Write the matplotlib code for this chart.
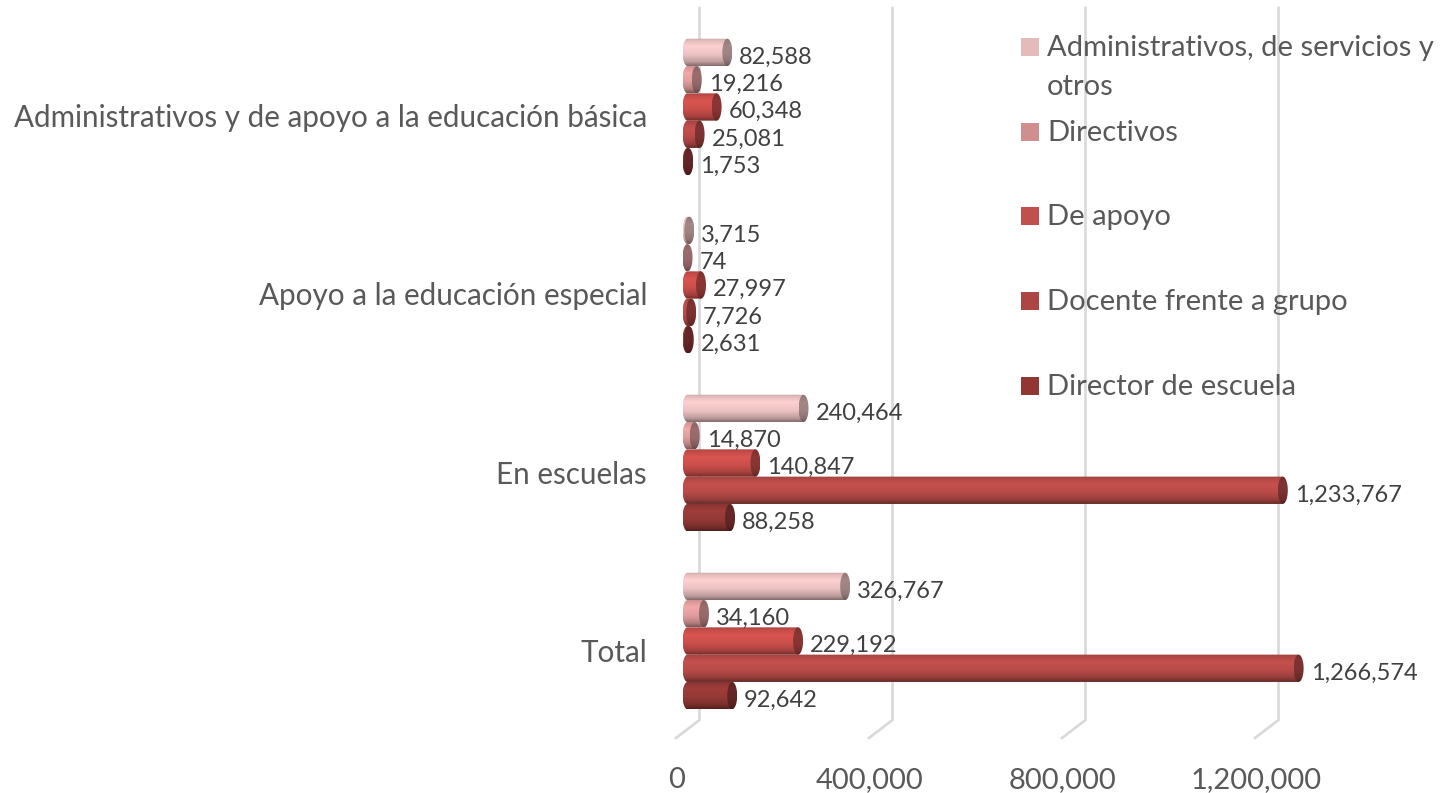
import numpy as np
import matplotlib
matplotlib.use("Agg")
import matplotlib.pyplot as plt
from matplotlib.patches import Polygon, Rectangle
from matplotlib.transforms import ScaledTranslation

plt.rcParams['font.family'] = ['Lato', 'DejaVu Sans']

categories = ['Total', 'En escuelas', 'Apoyo a la educación especial',
              'Administrativos y de apoyo a la educación básica']
series_names = ['Administrativos, de servicios y\notros', 'Directivos', 'De apoyo',
                'Docente frente a grupo', 'Director de escuela']

administrativos = [326767, 240464, 3715, 82588]
directivos = [34160, 14870, 74, 19216]
de_apoyo = [229192, 140847, 27997, 60348]
docente = [1266574, 1233767, 7726, 25081]
director = [92642, 88258, 2631, 1753]
all_series = [administrativos, directivos, de_apoyo, docente, director]

x_ticks = [0, 400000, 800000, 1200000]

bar_colors = [(240, 197, 197), (228, 160, 160), (205, 80, 76), (186, 76, 73), (150, 58, 55)]
legend_colors = ['#E3BBBB', '#D08F8F', '#C0504D', '#AC4644', '#923634']

W, H = 1445, 793
X0 = 687.5         # pixel of value 0
SCALE = 0.4825e-3  # pixels per unit
Y0 = 641           # pixel of the first category
STEP = 178         # pixels between categories
BOTTOM = 738
BAR_H = 27.3 / STEP
CAP = 5 / SCALE    # half width of the cylinder ends


def py(px):
    return (Y0 - px) / STEP


def ellipse_pts(cx, cy, start, stop):
    t = np.linspace(start, stop, 40)
    return np.column_stack([cx + CAP * np.cos(t), cy + BAR_H / 2 * np.sin(t)])


def shade(color, stops):
    pos = np.linspace(0, 1, 64)
    mult = np.interp(pos, [0, 0.06, 0.28, 0.6, 0.85, 1], stops)
    rgb = np.clip(np.outer(mult, color), 0, 255) / 255
    return rgb[:, None, :]


def cylinder(ax, val, y, color):
    body = shade(color, [0.8, 0.93, 1.06, 0.98, 0.8, 0.55])
    outline = np.vstack([ellipse_pts(0, y, np.pi / 2, 3 * np.pi / 2),
                         [[val, y - BAR_H / 2], [val, y + BAR_H / 2]]])
    im = ax.imshow(body, extent=(-CAP, val, y - BAR_H / 2, y + BAR_H / 2),
                   aspect='auto', zorder=3, interpolation='bilinear')
    im.set_clip_path(Polygon(outline, transform=ax.transData))
    end = shade(color, [0.55, 0.62, 0.68, 0.66, 0.58, 0.45])
    cap_pts = ellipse_pts(val, y, 0, 2 * np.pi)
    im2 = ax.imshow(end, extent=(val - CAP, val + CAP, y - BAR_H / 2, y + BAR_H / 2),
                    aspect='auto', zorder=4, interpolation='bilinear')
    im2.set_clip_path(Polygon(cap_pts, transform=ax.transData))


fig = plt.figure(figsize=(W / 100, H / 100), dpi=100)
# axes start a little left of zero so the rounded bar ends are not cut
LEFT = X0 - 20
ax = fig.add_axes([LEFT / W, (H - BOTTOM) / H, (W - LEFT) / W, BOTTOM / H])

# back wall gridlines with the 3d floor stub
for t in x_ticks:
    xs = [t + 12 / SCALE, t + 12 / SCALE, t - 11.5 / SCALE]
    ys = [py(8), py(720), py(738)]
    ax.plot(xs, ys, color='#d9d9d9', lw=1.9, clip_on=False, zorder=1,
            solid_joinstyle='miter')

for s, vals in enumerate(all_series):
    for c, val in enumerate(vals):
        y = c + (2 - s) * BAR_H
        cylinder(ax, val, y, bar_colors[s])
        ax.annotate(f'{val:,}', (val, y), xytext=((5 + 7) * 0.72, -3.4),
                    textcoords='offset points', ha='left', va='center',
                    fontsize=17, color='#404040', zorder=5)

ax.set_xlim(-20 / SCALE, (W - X0) / SCALE)
ax.set_ylim(py(BOTTOM), py(0))
ax.set_xticks(x_ticks)
ax.set_xticklabels([f'{t:,}' for t in x_ticks])
ax.set_yticks([c - 9 / STEP for c in range(len(categories))])
ax.set_yticklabels(categories)
ax.tick_params(axis='x', length=0, pad=21, labelsize=21, labelcolor='#595959')
ax.tick_params(axis='y', length=0, pad=14.7, labelsize=21.3, labelcolor='#595959')
shift = ScaledTranslation(-10.5 / 100, 0, fig.dpi_scale_trans)
for lab in ax.get_xticklabels():
    lab.set_transform(lab.get_transform() + shift)
for sp in ax.spines.values():
    sp.set_visible(False)
ax.patch.set_alpha(0)

# legend rows sit on an even step, the wrapped entry does not push the others
for i, name in enumerate(series_names):
    row = 47 + i * 84.7
    fig.add_artist(Rectangle((1021 / W, 1 - (row + 9) / H), 18 / W, 18 / H,
                             transform=fig.transFigure, color=legend_colors[i], lw=0))
    fig.text(1047 / W, 1 - (row - 12) / H, name, ha='left', va='top', fontsize=21,
             color='#595959', linespacing=1.6)

fig.savefig('out.png', dpi=100)
